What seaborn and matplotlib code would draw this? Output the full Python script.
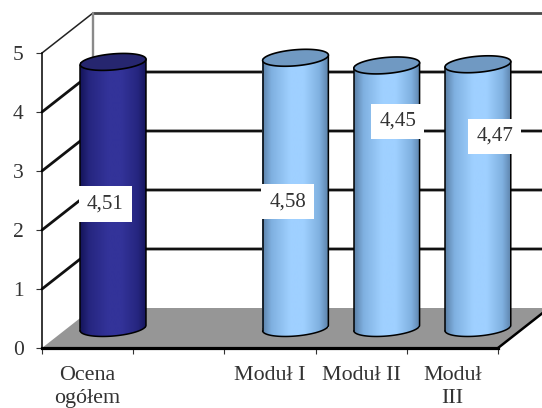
import numpy as np
import pandas as pd
import matplotlib
matplotlib.use("Agg")
import matplotlib.pyplot as plt
from matplotlib.colors import LinearSegmentedColormap
from matplotlib.patches import Polygon, Rectangle
from matplotlib.path import Path
from matplotlib.transforms import IdentityTransform
import seaborn as sns

# Survey scores
categories = ["Ocena\nogółem", " ", "Moduł I", "Moduł II", "Moduł\nIII"]
scores = [4.51, np.nan, 4.58, 4.45, 4.47]
y_ticks = [0, 1, 2, 3, 4, 5]

# Layout of the pseudo-3D box, in pixels
FIG_W, FIG_H = 542, 408
AX_L, AX_R, AX_B, AX_T = 42, 498, 348, 53
DEPTH_X_PX, DEPTH_Y_PX = 51, 40
ELLIPSE_A, ELLIPSE_B, TILT = 33.0, 8.0, np.deg2rad(5.0)
label_offsets = [(-8, -142), None, (-8, -144), (11, -56), (17, -72)]

navy = dict(edge="#14145a", mid="#262680", centre="#333399", top="#26266f")
sky = dict(edge="#5a7fa6", mid="#7fb0e0", centre="#9fd0ff", top="#7099c2")
bar_styles = {c: (navy if i == 0 else sky) for i, c in enumerate(categories)}

sns.set_theme(style="ticks")
plt.rcParams["font.family"] = ["Liberation Serif", "DejaVu Serif"]
TEXT = "#333333"

fig = plt.figure(figsize=(FIG_W / 100, FIG_H / 100), dpi=100, facecolor="white")
ax = fig.add_axes([AX_L / FIG_W, (FIG_H - AX_B) / FIG_H,
                   (AX_R - AX_L) / FIG_W, (AX_B - AX_T) / FIG_H])
ax.set_facecolor("none")

table = pd.DataFrame({"category": categories, "score": scores})
sns.barplot(data=table, x="category", y="score", hue="category",
            order=categories, hue_order=categories,
            palette={c: s["centre"] for c, s in bar_styles.items()},
            width=0.725, saturation=1, legend=False, ax=ax, zorder=3)

XMIN, XMAX = -0.5, len(categories) - 0.5
ax.set_xlim(XMIN, XMAX)
ax.set_ylim(0, 5)
ax.set_autoscale_on(False)
ax.set_xlabel("")
ax.set_ylabel("")

# Depth of the box expressed in data units
dx = DEPTH_X_PX / ((AX_R - AX_L) / (XMAX - XMIN))
dy = DEPTH_Y_PX / ((AX_B - AX_T) / 5)

# Floor and walls
ax.add_patch(Polygon([(XMIN, 0), (XMIN + dx, dy), (XMAX + dx, dy), (XMAX, 0)],
                     closed=True, facecolor="#969696", edgecolor="none",
                     zorder=1, clip_on=False))
for v in y_ticks[1:-1]:
    ax.plot([XMIN, XMIN + dx, XMAX + dx], [v, v + dy, v + dy], color="#111111",
            lw=2.0, zorder=2, clip_on=False, solid_joinstyle="miter")
ax.plot([XMIN, XMIN + dx], [5, 5 + dy], color="#222222", lw=1.1, zorder=2, clip_on=False)
ax.plot([XMIN + dx, XMAX + dx], [5 + dy, 5 + dy], color="#4a4a4a", lw=2.0, zorder=2, clip_on=False)
ax.plot([XMIN + dx, XMIN + dx], [dy, 5 + dy], color="#8a8a8a", lw=1.7, zorder=2, clip_on=False)
ax.plot([XMAX, XMAX + dx], [0, dy], color="black", lw=1.8, zorder=2, clip_on=False)


def ellipse_points(centre, start, stop, n=60):
    """Points of a tilted cylinder cap, in display pixels."""
    t = np.linspace(start, stop, n)
    ca, sa = np.cos(t) * ELLIPSE_A, np.sin(t) * ELLIPSE_B
    x = centre[0] + ca * np.cos(TILT) - sa * np.sin(TILT)
    y = centre[1] + ca * np.sin(TILT) + sa * np.cos(TILT)
    return np.column_stack([x, y])


# Turn each flat bar into a shaded cylinder standing mid-way into the box
bars = sorted((p for p in ax.patches if isinstance(p, Rectangle)
               and np.isfinite(p.get_height()) and p.get_height() > 0),
              key=lambda p: p.get_x())
for patch in bars:
    cat_index = int(round(patch.get_x() + patch.get_width() / 2))
    style = bar_styles[categories[cat_index]]
    value = patch.get_height()
    patch.set_x(patch.get_x() + dx / 2)
    patch.set_y(dy / 2)
    patch.set_edgecolor("none")
    patch.set_clip_on(False)

    cx = patch.get_x() + patch.get_width() / 2
    base = ax.transData.transform((cx, dy / 2))
    top = ax.transData.transform((cx, dy / 2 + value))

    lower = ellipse_points(base, np.pi, 2 * np.pi)
    upper = ellipse_points(top, 2 * np.pi, np.pi)
    body = np.vstack([lower, upper, lower[:1]])

    shade = LinearSegmentedColormap.from_list(
        "cyl", [(0, style["edge"]), (0.14, style["mid"]), (0.42, style["centre"]),
                (0.62, style["centre"]), (0.86, style["mid"]), (1, style["edge"])])
    img = ax.imshow(np.linspace(0, 1, 256)[None, :], cmap=shade, aspect="auto",
                    extent=(patch.get_x(), patch.get_x() + patch.get_width(), -1, 7),
                    zorder=3.1, interpolation="bilinear")
    # The rightmost cylinder leans past the axes box, so only the body outline clips it
    img.set_clip_box(fig.bbox)
    img.set_clip_path(Path(body), IdentityTransform())

    ax.plot(*body[:len(lower) + 1].T, color="black", lw=1.1, zorder=3.2,
            transform=IdentityTransform(), clip_on=False)
    ax.plot(*np.vstack([upper[-1:], lower[:1]]).T, color="black", lw=1.1, zorder=3.2,
            transform=IdentityTransform(), clip_on=False)
    cap = ellipse_points(top, 0, 2 * np.pi, 120)
    ax.fill(*cap.T, facecolor=style["top"], edgecolor="black", lw=1.2, zorder=3.3,
            transform=IdentityTransform(), clip_on=False)

    offset = label_offsets[cat_index]
    ax.annotate(f"{value:.2f}".replace(".", ","),
                xy=(cx, dy / 2 + value), xycoords="data",
                xytext=offset, textcoords="offset pixels",
                ha="center", va="center", fontsize=15, color=TEXT, zorder=5,
                bbox=dict(boxstyle="square,pad=0.39", facecolor="white", edgecolor="none"))

ax.set_xlim(XMIN, XMAX)
ax.set_ylim(0, 5)

# Axes: ticks sit on the category boundaries, labels between them
for side in ("top", "right"):
    ax.spines[side].set_visible(False)
ax.spines["left"].set_linewidth(1.1)
ax.spines["left"].set_color("black")
ax.spines["bottom"].set_linewidth(2.3)
ax.spines["bottom"].set_color("black")
ax.spines["bottom"].set_zorder(2.5)

ax.set_xticks(np.arange(XMIN, XMAX + 1), labels=[])
ax.set_xticks(np.arange(len(categories)), labels=categories, minor=True)
ax.tick_params(axis="x", which="major", length=4.0, width=0.8, color="#333333")
ax.tick_params(axis="x", which="minor", length=0, pad=13, labelsize=15.8, labelcolor=TEXT)
for tick_label in ax.get_xticklabels(minor=True):
    tick_label.set_linespacing(1.3)
ax.set_yticks(y_ticks)
ax.tick_params(axis="y", length=4.3, width=0.8, color="#333333", pad=9,
               labelsize=15.5, labelcolor=TEXT)

fig.savefig("out.png", dpi=100, facecolor="white")
